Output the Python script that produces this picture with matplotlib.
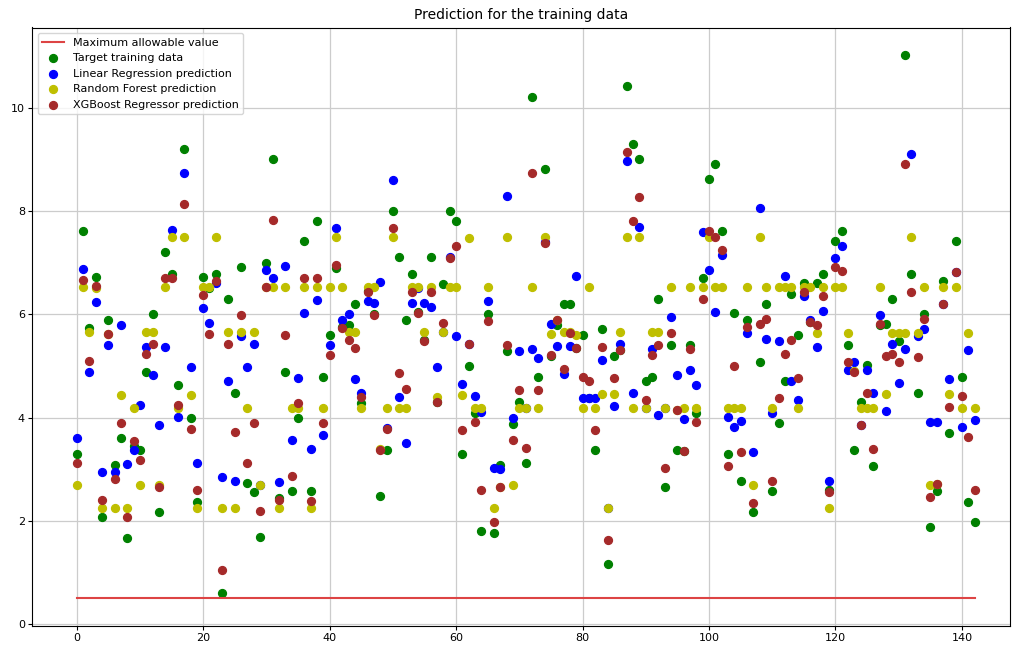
import matplotlib
matplotlib.use("Agg")
import matplotlib.pyplot as plt
import numpy as np

max_allowable = 0.5

target = [3.29, 7.61, 5.73, 6.72, 2.07, 5.88, 3.08, 3.60, 1.66, 3.45,
          3.37, 4.89, 6.00, 2.18, 7.20, 6.78, 4.63, 9.20, 4.00, 2.37,
          6.72, 6.50, 6.78, 0.60, 6.30, 4.48, 6.91, 2.73, 2.56, 1.68,
          7.00, 9.00, 2.45, 4.89, 2.58, 3.99, 7.41, 2.58, 7.80, 4.78,
          5.60, 6.90, 5.75, 5.79, 6.20, 4.29, 6.45, 6.00, 2.48, 3.37,
          8.00, 7.10, 5.89, 6.78, 6.05, 5.50, 7.10, 4.30, 6.59, 8.00,
          7.80, 3.29, 5.00, 4.08, 1.81, 6.00, 1.77, 3.08, 5.28, 3.88,
          4.31, 3.13, 10.20, 4.78, 8.82, 5.20, 5.79, 6.20, 6.20, 5.34,
          5.60, 4.37, 3.37, 5.71, 1.17, 5.19, 5.30, 10.41, 9.30, 9.01,
          4.70, 4.78, 6.30, 2.66, 5.41, 3.37, 3.35, 5.41, 4.08, 6.70,
          8.61, 8.91, 7.61, 3.29, 6.02, 2.77, 5.89, 2.17, 5.08, 6.20,
          2.58, 3.89, 4.70, 6.40, 5.60, 6.60, 5.85, 6.60, 6.78, 2.60,
          7.41, 7.61, 5.41, 3.37, 4.31, 5.02, 3.07, 5.80, 5.81, 6.30,
          5.49, 11.02, 6.78, 4.47, 6.00, 1.88, 2.57, 6.64, 3.70, 7.41,
          4.78, 2.37, 1.97]

linreg = [3.61, 6.88, 4.88, 6.24, 2.94, 5.41, 2.94, 5.79, 3.10, 3.37,
          4.24, 5.37, 4.82, 3.86, 5.37, 7.63, 4.02, 8.73, 4.97, 3.12,
          6.13, 5.84, 6.60, 2.85, 4.70, 2.77, 5.57, 4.97, 5.42, 2.69,
          6.85, 6.70, 2.75, 6.94, 3.57, 4.76, 6.02, 3.39, 6.28, 3.66,
          5.41, 7.66, 5.89, 6.00, 4.74, 4.48, 6.25, 6.22, 6.62, 3.80,
          8.59, 4.39, 3.51, 6.22, 6.50, 6.22, 6.15, 4.97, 5.66, 7.10,
          5.58, 4.65, 5.42, 4.42, 4.11, 6.25, 3.02, 3.00, 8.28, 4.00,
          5.28, 4.18, 5.32, 5.15, 7.40, 5.82, 5.39, 4.84, 5.39, 6.75,
          4.37, 4.37, 4.37, 5.12, 2.25, 4.22, 5.43, 8.97, 4.48, 7.69,
          4.18, 5.32, 4.05, 4.18, 5.94, 4.82, 3.97, 4.92, 4.63, 7.59,
          6.85, 6.04, 7.14, 4.01, 3.82, 3.93, 5.64, 3.33, 8.05, 5.53,
          4.08, 5.49, 6.74, 4.70, 4.34, 6.35, 5.88, 5.36, 6.07, 2.77,
          7.08, 7.32, 4.92, 5.08, 3.86, 4.93, 4.47, 5.98, 4.13, 5.42,
          4.66, 5.32, 9.10, 5.57, 5.71, 3.91, 3.91, 6.20, 4.74, 6.82,
          3.82, 5.30, 3.95]

forest = [2.69, 6.52, 5.66, 6.51, 2.25, 5.62, 2.25, 4.44, 2.25, 4.18,
          2.69, 5.66, 5.66, 2.69, 6.52, 7.49, 4.18, 7.49, 4.44, 2.25,
          6.52, 6.52, 7.49, 2.25, 5.66, 2.25, 5.66, 4.18, 5.66, 2.69,
          6.52, 6.52, 2.25, 6.52, 4.18, 4.18, 6.52, 2.25, 6.52, 4.18,
          6.52, 7.49, 6.52, 5.66, 5.66, 4.18, 6.52, 6.52, 3.40, 4.18,
          7.49, 4.18, 4.18, 6.52, 6.52, 5.66, 6.52, 4.40, 5.66, 6.52,
          6.52, 4.44, 7.48, 4.18, 4.18, 6.52, 2.25, 2.66, 7.49, 2.70,
          4.18, 4.18, 6.52, 4.18, 7.49, 5.62, 5.88, 5.66, 5.66, 5.60,
          4.18, 6.52, 4.18, 4.46, 2.25, 4.46, 5.66, 7.49, 4.18, 7.49,
          4.18, 5.66, 5.66, 4.18, 6.52, 4.15, 4.18, 6.52, 4.18, 6.52,
          7.49, 6.52, 6.52, 4.19, 4.19, 4.19, 6.52, 2.70, 7.49, 6.52,
          4.19, 6.52, 6.52, 6.52, 4.18, 6.52, 6.52, 5.64, 6.52, 2.25,
          6.52, 6.52, 5.64, 4.90, 4.18, 4.18, 4.18, 6.52, 4.46, 5.64,
          5.64, 5.64, 7.49, 5.64, 6.52, 2.70, 2.71, 6.52, 4.46, 6.52,
          4.18, 5.64, 4.18]

xgboost = [3.13, 6.67, 5.10, 6.54, 2.41, 5.62, 2.81, 3.89, 2.07, 3.55,
           3.18, 5.24, 5.42, 2.66, 6.70, 6.70, 4.24, 8.13, 3.77, 2.60,
           6.38, 5.62, 6.64, 1.05, 5.42, 3.73, 5.99, 3.13, 3.90, 2.20,
           6.52, 7.83, 2.41, 5.60, 2.86, 4.28, 6.70, 2.39, 6.70, 3.90,
           5.21, 6.96, 5.73, 5.50, 5.34, 4.40, 6.44, 5.99, 3.37, 3.78,
           7.67, 4.86, 4.55, 6.43, 6.02, 5.49, 6.43, 4.30, 5.83, 7.09,
           7.32, 3.76, 5.42, 3.92, 2.60, 5.86, 1.97, 2.66, 5.41, 3.57,
           4.53, 3.42, 8.73, 4.53, 7.38, 5.21, 5.88, 4.94, 5.64, 5.34,
           4.79, 4.71, 3.76, 5.36, 1.64, 4.76, 5.30, 9.14, 7.80, 8.26,
           4.35, 5.21, 5.41, 3.02, 5.63, 4.15, 3.35, 5.32, 3.92, 6.30,
           7.61, 7.49, 7.25, 3.07, 5.00, 3.33, 5.76, 2.35, 5.81, 5.91,
           2.77, 4.37, 5.24, 5.50, 4.76, 6.44, 5.85, 5.80, 6.35, 2.56,
           6.91, 6.83, 5.08, 4.89, 3.86, 4.47, 3.39, 5.81, 5.19, 5.24,
           5.08, 8.91, 6.44, 5.17, 5.90, 2.46, 2.71, 6.20, 4.20, 6.82,
           4.42, 3.63, 2.60]

x = np.arange(len(target))

fig = plt.figure(figsize=(10.13, 6.45), dpi=100)
ax = fig.add_axes([32 / 1013, 1 - 625.6 / 645, (1010 - 32) / 1013, (625.6 - 27.5) / 645])

ax.plot(x, [max_allowable] * len(x), color='#dd4444', linewidth=1.5,
        label='Maximum allowable value')
ax.scatter(x, target, color='g', s=32, label='Target training data')
ax.scatter(x, linreg, color='b', s=32, label='Linear Regression prediction')
ax.scatter(x, forest, color='y', s=32, label='Random Forest prediction')
ax.scatter(x, xgboost, color='brown', s=32, label='XGBoost Regressor prediction')

ax.set_xlim(-7.07, 147.6)
ax.set_ylim(-0.026, 11.55)
ax.set_xticks([0, 20, 40, 60, 80, 100, 120, 140])
ax.set_yticks([0, 2, 4, 6, 8, 10])
ax.tick_params(labelsize=8, length=3, pad=2)
ax.grid(True, color='#cccccc', linewidth=0.9)
ax.set_axisbelow(True)
ax.set_title('Prediction for the training data', fontsize=10)
ax.legend(loc='upper left', fontsize=8)

fig.savefig('out.png', dpi=100)
